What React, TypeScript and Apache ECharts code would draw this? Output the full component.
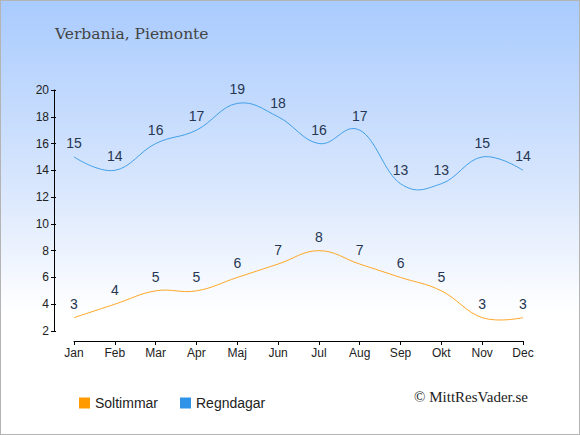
import React, { useEffect, useRef } from "react";
import * as echarts from "echarts";

const months = ["Jan", "Feb", "Mar", "Apr", "Maj", "Jun", "Jul", "Aug", "Sep", "Okt", "Nov", "Dec"];
const soltimmar = [3, 4, 5, 5, 6, 7, 8, 7, 6, 5, 3, 3];
const regndagar = [15, 14, 16, 17, 19, 18, 16, 17, 13, 13, 15, 14];
const yTicks = { min: 2, max: 20, interval: 2 };
const titleText = "Verbania, Piemonte";
const copyright = "© MittResVader.se";
const seriesNames = ["Soltimmar", "Regndagar"];

// Spline path (tangent at each point parallel to its neighbours' chord)
function splinePath(pts: number[][]): string {
  const smoothing = 1.5;
  const denom = smoothing + 1;
  const rc: (number[] | null)[] = [];
  let d = "";
  for (let i = 0; i < pts.length; i++) {
    const [px, py] = pts[i];
    const last = pts[i - 1];
    const next = pts[i + 1];
    let lcx = px, lcy = py;
    if (last && next) {
      const [lx, ly] = last;
      const [nx, ny] = next;
      lcx = (smoothing * px + lx) / denom;
      lcy = (smoothing * py + ly) / denom;
      const rcx = (smoothing * px + nx) / denom;
      let rcy = (smoothing * py + ny) / denom;
      let corr = 0;
      if (rcx !== lcx) {
        corr = ((rcy - lcy) * (rcx - px)) / (rcx - lcx) + py - rcy;
      }
      lcy += corr;
      rcy += corr;
      rc[i] = [rcx, rcy];
    } else {
      rc[i] = null;
    }
    if (i === 0) {
      d += `M${px},${py}`;
    } else {
      const prc = rc[i - 1] || pts[i - 1];
      d += ` C${prc[0]},${prc[1]} ${lcx},${lcy} ${px},${py}`;
    }
  }
  return d;
}

function makeSeries(name: string, values: number[], lineColor: string, legendColor: string) {
  return {
    name,
    type: "custom",
    color: legendColor,
    data: values.map((v, i) => [i, v]),
    encode: { x: 0, y: 1 },
    clip: false,
    renderItem: (params: any, api: any) => {
      const idx = params.dataIndex;
      const p = api.coord([idx, values[idx]]);
      const children: any[] = [];
      if (idx === 0) {
        const pts = values.map((v, j) => api.coord([j, v]));
        children.push({
          type: "path",
          shape: { pathData: splinePath(pts) },
          style: { fill: "none", stroke: lineColor, lineWidth: 1 },
          silent: true,
        });
      }
      children.push({
        type: "text",
        x: p[0],
        y: p[1] - 7,
        style: {
          text: String(values[idx]),
          align: "center",
          verticalAlign: "bottom",
          fill: "#263652",
          fontSize: 14,
          fontFamily: "Liberation Sans, Arial, sans-serif",
        },
        silent: true,
      });
      return { type: "group", children };
    },
  };
}

export default function App() {
  const ref = useRef<HTMLDivElement>(null);
  useEffect(() => {
    if (!ref.current) return;
    const chart = echarts.init(ref.current, undefined, { renderer: "svg" });
    chart.setOption({
      animation: false,
      backgroundColor: "transparent",
      title: {
        text: titleText,
        left: 50,
        top: 21,
        textStyle: {
          fontFamily: "DejaVu Serif, serif",
          fontWeight: "normal",
          fontSize: 15.5,
          color: "#444444",
        },
      },
      legend: {
        left: 74,
        top: 391,
        itemWidth: 11,
        itemHeight: 11,
        itemGap: 22,
        icon: "rect",
        textStyle: {
          fontFamily: "Liberation Sans, Arial, sans-serif",
          fontSize: 14,
          color: "#222222",
        },
        data: [
          { name: seriesNames[0], itemStyle: { color: "#ff9a00" } },
          { name: seriesNames[1], itemStyle: { color: "#2f94e8" } },
        ],
      },
      graphic: [
        {
          type: "text",
          right: 52,
          top: 389,
          style: {
            text: copyright,
            fontFamily: "Liberation Serif, Times New Roman, serif",
            fontSize: 15,
            fill: "#222222",
          },
        },
      ],
      grid: { left: 74, right: 57, top: 90, bottom: 104 },
      xAxis: {
        type: "category",
        data: months,
        boundaryGap: false,
        offset: 10,
        axisLine: { lineStyle: { color: "#000", width: 1 } },
        axisTick: { length: 4, lineStyle: { color: "#000" } },
        axisLabel: {
          color: "#222",
          fontSize: 12,
          fontFamily: "Liberation Sans, Arial, sans-serif",
          margin: 6,
        },
        splitLine: { show: false },
      },
      yAxis: [
        {
          type: "value",
          min: yTicks.min,
          max: yTicks.max,
          interval: yTicks.interval,
          offset: 20,
          axisLine: { show: true, lineStyle: { color: "#000", width: 1 } },
          axisTick: { show: true, length: 3, lineStyle: { color: "#000" } },
          axisLabel: {
            color: "#222",
            fontSize: 12,
            fontFamily: "Liberation Sans, Arial, sans-serif",
            margin: 5,
          },
          splitLine: { show: false },
        },
        {
          type: "value",
          position: "left",
          min: yTicks.min,
          max: yTicks.max,
          interval: yTicks.interval,
          offset: 20,
          axisLine: { show: false },
          axisTick: { show: true, inside: true, length: 2, lineStyle: { color: "#000" } },
          axisLabel: { show: false },
          splitLine: { show: false },
        },
      ],
      series: [
        makeSeries(seriesNames[0], soltimmar, "#ffa726", "#ff9a00"),
        makeSeries(seriesNames[1], regndagar, "#42a0ea", "#2f94e8"),
      ],
    });
    return () => chart.dispose();
  }, []);
  return (
    <div
      style={{
        position: "fixed",
        left: 0,
        top: 0,
        width: 580,
        height: 435,
        boxSizing: "border-box",
        border: "1px solid #b4b4b4",
        background: "linear-gradient(to bottom, #a9cbfe 0%, #dbe8fd 45%, #ffffff 72%, #ffffff 100%)",
      }}
    >
      <div ref={ref} style={{ position: "absolute", left: -1, top: -1, width: 580, height: 435 }} />
    </div>
  );
}
